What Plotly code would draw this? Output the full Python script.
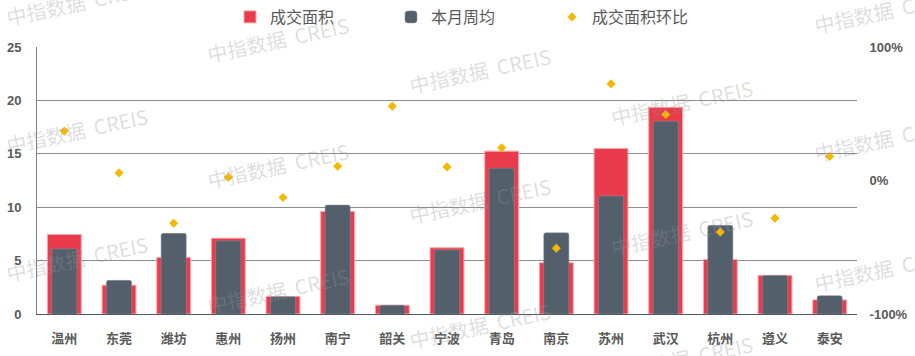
import plotly.graph_objects as go

cities = ["温州", "东莞", "潍坊", "惠州", "扬州", "南宁", "韶关", "宁波",
          "青岛", "南京", "苏州", "武汉", "杭州", "遵义", "泰安"]
area = [7.45, 2.7, 5.3, 7.1, 1.65, 9.6, 0.82, 6.2,
        15.25, 4.8, 15.5, 19.35, 5.1, 3.62, 1.32]
weekly_avg = [6.1, 3.15, 7.55, 6.85, 1.62, 10.2, 0.82, 6.0,
              13.65, 7.6, 11.05, 18.05, 8.3, 3.6, 1.72]
mom_ratio = [0.37, 0.057, -0.32, 0.025, -0.127, 0.107, 0.557, 0.102,
             0.245, -0.507, 0.724, 0.494, -0.385, -0.282, 0.18]

W, H = 915, 356
L, R, T, B = 37, 58, 47, 42

fig = go.Figure()
fig.add_trace(go.Bar(
    x=cities, y=area, name="成交面积", width=0.62,
    marker=dict(color="#E93B4B", line=dict(color="#F6A9A9", width=1)),
))
fig.add_trace(go.Bar(
    x=cities, y=weekly_avg, name="本月周均", width=0.46,
    marker=dict(color="#535F6B", line=dict(color="#8A939C", width=0.5), cornerradius=2),
))
fig.add_trace(go.Scatter(
    x=cities, y=mom_ratio, name="成交面积环比", mode="markers", yaxis="y2",
    marker=dict(symbol="diamond", size=7, color="#F5B800"),
))

# watermarks
wm_pos = [(77, 2), (77, 130), (77, 258),
          (278, 40), (278, 165), (278, 290),
          (480, 70), (480, 200), (480, 325),
          (682, 103), (682, 233), (682, 358),
          (885, 10), (885, 138), (885, 268)]
anns = []
for px, py in wm_pos:
    anns.append(dict(
        x=(px - L) / (W - L - R), y=(H - B - py) / (H - T - B),
        xref="paper", yref="paper", text="中指数据  CREIS", showarrow=False,
        textangle=-12, xanchor="center", yanchor="middle",
        font=dict(family="Noto Sans CJK SC", size=20, color="rgba(150,150,150,0.33)"),
    ))

fig.update_layout(
    width=W, height=H,
    margin=dict(l=L, r=R, t=T, b=B, autoexpand=False),
    paper_bgcolor="white", plot_bgcolor="white",
    barmode="overlay",
    showlegend=True,
    legend=dict(
        orientation="h", x=(230 - L) / (W - L - R), xanchor="left",
        y=1.0, yref="container", yanchor="top",
        font=dict(family="Noto Sans CJK SC", size=16, color="#595959"),
        entrywidth=116, entrywidthmode="pixels",
        itemclick=False,
    ),
    xaxis=dict(
        automargin=False, range=[-0.5, len(cities) - 0.5],
        showline=True, linecolor="#4F5866", linewidth=1,
        ticks="outside", ticklen=12, tickcolor="rgba(0,0,0,0)",
        tickfont=dict(family="Noto Sans CJK SC", size=13, color="#595959", weight="bold"),
        showgrid=False,
    ),
    yaxis=dict(
        automargin=False,
        range=[0, 25], dtick=5, showline=True, linecolor="#808080", linewidth=1,
        showgrid=True, gridcolor="#8C8C8C", gridwidth=1,
        ticks="outside", ticklen=12, tickcolor="rgba(0,0,0,0)",
        tickfont=dict(family="Liberation Sans", size=13, color="#595959", weight="bold"),
        zeroline=False,
    ),
    yaxis2=dict(
        automargin=False,
        range=[-1, 1], overlaying="y", side="right",
        tickvals=[-1, 0, 1], ticktext=["-100%", "0%", "100%"],
        showgrid=False, zeroline=False, showline=False,
        ticks="outside", ticklen=9, tickcolor="rgba(0,0,0,0)",
        tickfont=dict(family="Liberation Sans", size=13, color="#595959", weight="bold"),
    ),
    annotations=anns,
)

fig.write_html("out.html", config={"displayModeBar": False},
               post_script="document.body.style.margin='0';")
